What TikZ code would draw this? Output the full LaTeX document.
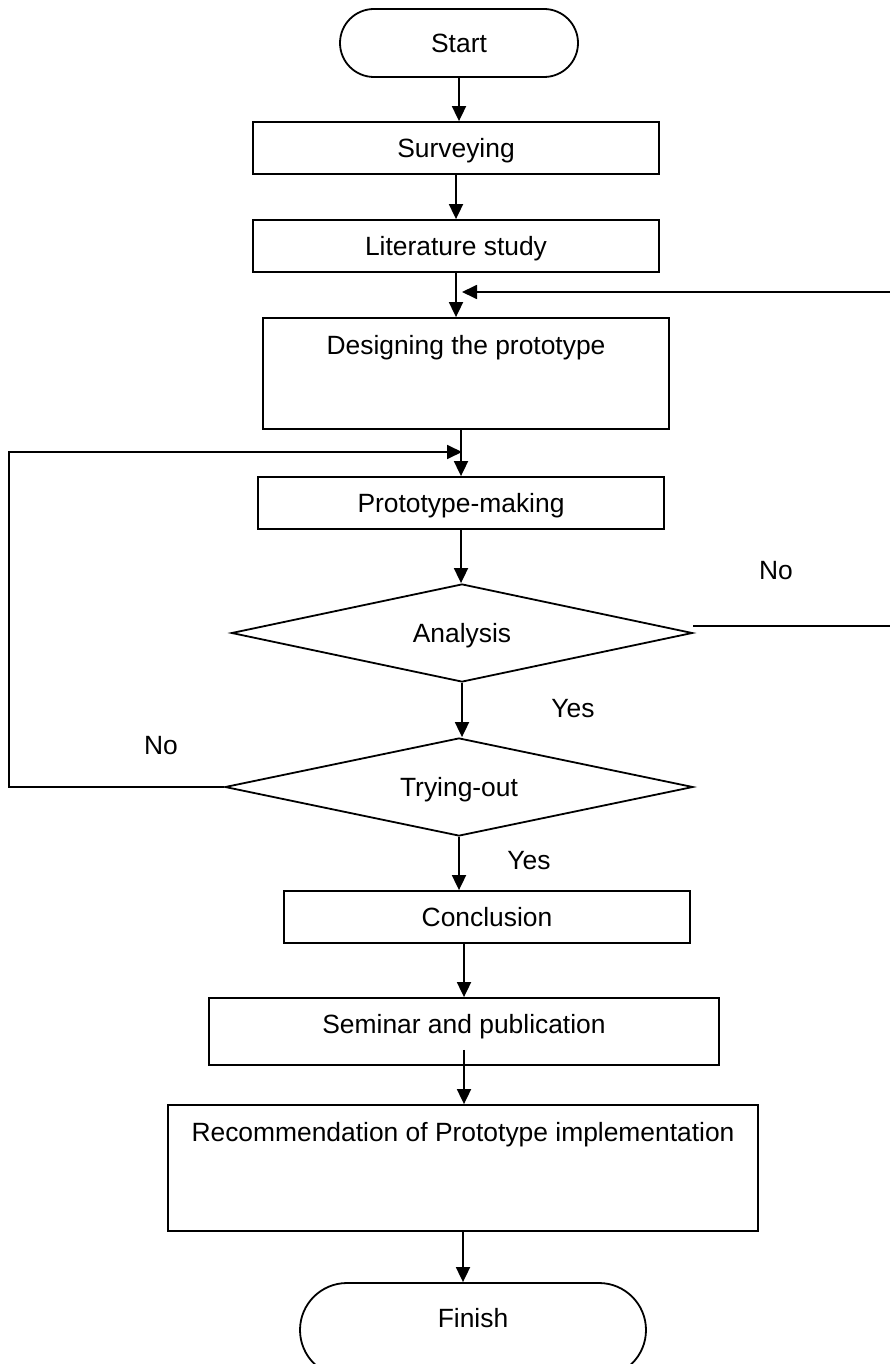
\documentclass[tikz,border=0pt]{standalone}
\usepackage{fontspec}
\setmainfont{Liberation Sans}
\usetikzlibrary{shapes.geometric,arrows.meta}
\tikzstyle{texto}=[inner sep=0pt,font=\fontsize{26.4}{31}\selectfont,text height=18.9pt,text depth=0pt]
\tikzstyle{caja}=[texto,draw,rectangle,line width=1.8pt]
\tikzstyle{capsula}=[caja,rounded corners=34pt]
\tikzstyle{rombo}=[texto,draw,diamond,aspect=4.7,line width=1.8pt]
\tikzstyle{flecha}=[line width=1.8pt,-{Triangle[length=15pt,width=14pt]}]

\begin{document}
\begin{tikzpicture}[x=1pt,y=-1pt]
    \useasboundingbox (0,0) rectangle (890,1364);
    \node [capsula, minimum width=238pt, minimum height=68pt] (start) at (459,43) {Start};
    \node [caja, minimum width=406pt, minimum height=52pt] (surv) at (456,148) {Surveying};
    \node [caja, minimum width=406pt, minimum height=52pt] (lit) at (456,246) {Literature study};
    \node [caja, minimum width=406pt, text height=36.5pt, text depth=74.5pt] (des) at (466,373.5) {Designing the prototype};
    \node [caja, minimum width=406pt, minimum height=52pt] (proto) at (461,503) {Prototype-making};
    \node [rombo, minimum width=461pt, minimum height=98pt] (ana) at (462,633) {Analysis};
    \node [rombo, minimum width=468pt, minimum height=98pt] (try) at (459,787) {Trying-out};
    \node [caja, minimum width=406pt, minimum height=52pt] (concl) at (487,917) {Conclusion};
    \node [caja, minimum width=510pt, text height=35.5pt, text depth=31.5pt] (sem) at (464,1031.5) {Seminar and publication};
    \node [caja, minimum width=590pt, text height=36.5pt, text depth=89.5pt] (rec) at (463,1168) {Recommendation of Prototype implementation};
    \node [capsula, rounded corners=47pt, minimum width=346pt, text height=44.5pt, text depth=49.5pt] (fin) at (473,1330) {Finish};
    \coordinate (fbR) at (462,292);
    \coordinate (fbL) at (462,452);
    \draw [flecha] (start.south) -- (start.south |- surv.north);
    \draw [flecha] (surv.south) -- (surv.south |- lit.north);
    \draw [flecha] (lit.south) -- (lit.south |- des.north);
    \draw [flecha] (proto.north |- des.south) -- (proto.north);
    \draw [flecha] (proto.south) -- (proto.south |- ana.north);
    \draw [flecha] (ana.south) -- (ana.south |- try.north);
    \draw [flecha] (try.south) -- (try.south |- concl.north);
    \draw [flecha] (sem.north |- concl.south) -- (sem.north);
    \draw [flecha] ([yshift=16pt]sem.south) -- (sem.south |- rec.north);
    \draw [flecha] (rec.south) -- (rec.south |- fin.north);
    \draw [flecha] ([yshift=7pt]ana.east) -- ++(210,0) |- (fbR);
    \draw [flecha] (try.west) -- ++(-215,0) |- (fbL);
    \node [texto] (no1) at (776,570) {No};
    \node [texto] (yes1) at (573,708) {Yes};
    \node [texto] (no2) at (161,745) {No};
    \node [texto] (yes2) at (529,860) {Yes};
\end{tikzpicture}
\end{document}
